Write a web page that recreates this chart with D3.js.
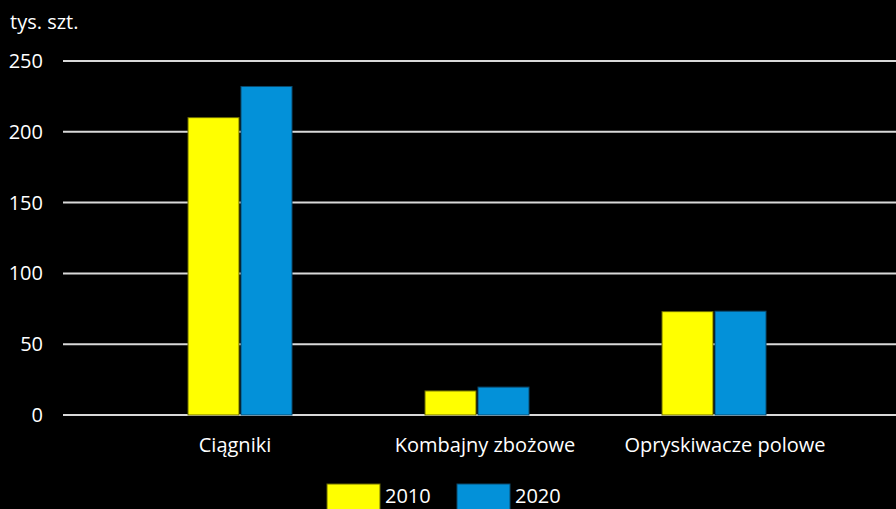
<!DOCTYPE html>
<html><head><meta charset="utf-8">
<script src="https://cdn.jsdelivr.net/npm/d3@7"></script>
<style>html,body{margin:0;padding:0;background:#000;}svg{display:block;}</style>
</head><body>
<svg id="c" width="896" height="509"></svg>
<script>
const categories = ["Ciągniki", "Kombajny zbożowe", "Opryskiwacze polowe"];
const seriesNames = ["2010", "2020"];
const values2010 = [210, 17, 73];
const values2020 = [232, 19.7, 73.3];
const yTicks = [0, 50, 100, 150, 200, 250];
const unitLabel = "tys. szt.";
const colors = ["#ffff00", "#0391d9"];
const strokes = ["#6b6b00", "#0a4a6e"];

const svg = d3.select("#c");
const font = "'Open Sans', sans-serif";
const fs = 20;
const y = d3.scaleLinear().domain([0, 250]).range([415, 61]);
const x = d3.scaleBand().domain(categories).range([121.5, 832.5]);
const barW = 51, gap = 2;
const labelShift = [-5, 8, 11];

svg.append("g").selectAll("line").data(yTicks).join("line")
  .attr("x1", 63).attr("x2", 896)
  .attr("y1", d => y(d)).attr("y2", d => y(d))
  .attr("stroke", "#d9d9d9").attr("stroke-width", 2);

svg.append("g").selectAll("text").data(yTicks).join("text")
  .attr("x", 43).attr("y", d => y(d)).attr("dy", "0.35em")
  .attr("text-anchor", "end").attr("fill", "#fff")
  .attr("font-family", font).attr("font-size", fs)
  .text(d => d);

svg.append("text").attr("x", 10).attr("y", 29).attr("fill", "#fff")
  .attr("font-family", font).attr("font-size", fs).text(unitLabel);

const series = [values2010, values2020];
series.forEach((vals, si) => {
  svg.append("g").selectAll("rect").data(categories).join("rect")
    .attr("x", (c) => x(c) + x.bandwidth() / 2 - barW - gap / 2 + si * (barW + gap))
    .attr("width", barW)
    .attr("y", (c, i) => y(vals[i]))
    .attr("height", (c, i) => y(0) - y(vals[i]))
    .attr("fill", colors[si]).attr("stroke", strokes[si]).attr("stroke-width", 1);
});

svg.append("g").selectAll("text").data(categories).join("text")
  .attr("x", (c, i) => x(c) + x.bandwidth() / 2 + labelShift[i]).attr("y", 452)
  .attr("text-anchor", "middle").attr("fill", "#fff")
  .attr("font-family", font).attr("font-size", fs)
  .text(c => c);

const legX = [327, 457];
seriesNames.forEach((n, i) => {
  svg.append("rect").attr("x", legX[i]).attr("y", 484).attr("width", 53).attr("height", 30)
    .attr("fill", colors[i]).attr("stroke", strokes[i]);
  svg.append("text").attr("x", legX[i] + 58).attr("y", 503).attr("fill", "#fff")
    .attr("font-family", font).attr("font-size", fs).text(n);
});
</script>
</body></html>
